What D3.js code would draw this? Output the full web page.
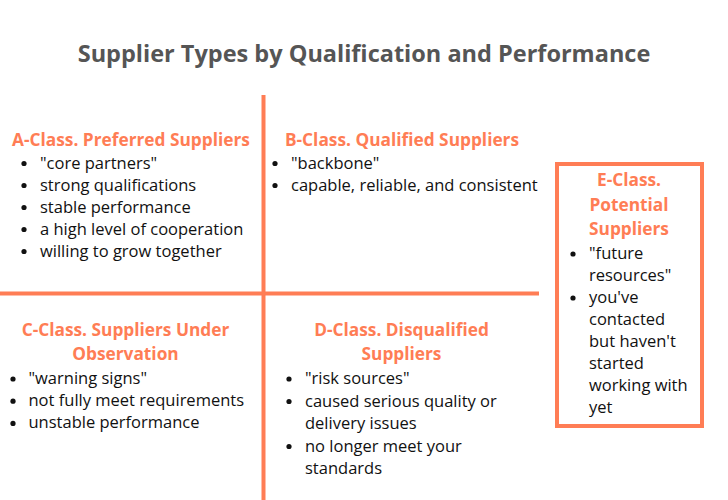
<!DOCTYPE html>
<html>
<head>
<meta charset="utf-8">
<script src="https://cdn.jsdelivr.net/npm/d3@7"></script>
<style>
  body { margin: 0; background: #fff; }
  svg { display: block; }
</style>
</head>
<body>
<svg width="728" height="500"></svg>
<script>
const title = "Supplier Types by Qualification and Performance";

// quadrant order: A (top left), B (top right), C (bottom left), D (bottom right), E (side box)
const classIds = ["A", "B", "C", "D", "E"];

const headers = [
    ["A-Class. Preferred Suppliers"],
    ["B-Class. Qualified Suppliers"],
    ["C-Class. Suppliers Under", "Observation"],
    ["D-Class. Disqualified", "Suppliers"],
    ["E-Class.", "Potential", "Suppliers"]
];

// each bullet is a list of its wrapped lines
const bullets = [
    [["\"core partners\""], ["strong qualifications"], ["stable performance"], ["a high level of cooperation"], ["willing to grow together"]],
    [["\"backbone\""], ["capable, reliable, and consistent"]],
    [["\"warning signs\""], ["not fully meet requirements"], ["unstable performance"]],
    [["\"risk sources\""], ["caused serious quality or", "delivery issues"], ["no longer meet your", "standards"]],
    [["\"future", "resources\""], ["you've", "contacted", "but haven't", "started", "working with", "yet"]]
];

const width = 728, height = 500;
const accent = "#ff7d55";
const font = "'Open Sans', sans-serif";

const svg = d3.select("svg").attr("viewBox", `0 0 ${width} ${height}`);

// grid lines of the 2x2 matrix
const gx = d3.scaleLinear().domain([0, 1, 2]).range([0, 263.5, 539]);
const gy = d3.scaleLinear().domain([0, 1, 2]).range([95, 293.5, 500]);

svg.append("text")
    .attr("x", width / 2)
    .attr("y", 62)
    .attr("text-anchor", "middle")
    .style("font-family", font)
    .style("font-weight", 700)
    .style("font-size", "23.5px")
    .style("fill", "#555555")
    .text(title);

svg.append("line")
    .attr("x1", gx(1)).attr("x2", gx(1))
    .attr("y1", gy(0)).attr("y2", gy(2))
    .attr("stroke", accent).attr("stroke-width", 4);

svg.append("line")
    .attr("x1", gx(0)).attr("x2", gx(2))
    .attr("y1", gy(1)).attr("y2", gy(1))
    .attr("stroke", accent).attr("stroke-width", 4);

// E-class box on the side
svg.append("rect")
    .attr("x", 557).attr("y", 164)
    .attr("width", 145).attr("height", 262)
    .attr("fill", "none")
    .attr("stroke", accent).attr("stroke-width", 4);

// where each block of text sits
const layout = {
    A: { cx: 131, hy: 146, hStep: 24, dotX: 24, textX: 40, by: 168.5, step: 22 },
    B: { cx: 402, hy: 146, hStep: 24, dotX: 275, textX: 291, by: 168.5, step: 22 },
    C: { cx: 125.5, hy: 335.5, hStep: 24.5, dotX: 13, textX: 28.5, by: 384, step: 22.2 },
    D: { cx: 401.5, hy: 335.5, hStep: 24.5, dotX: 289, textX: 305, by: 384, step: 22.5 },
    E: { cx: 629, hy: 186, hStep: 24.5, dotX: 573, textX: 589, by: 259, step: 22 }
};

classIds.forEach((id, i) => {
    const L = layout[id];
    const g = svg.append("g").attr("class", "block-" + id);

    g.selectAll("text.head")
        .data(headers[i])
        .enter().append("text")
        .attr("class", "head")
        .attr("x", L.cx)
        .attr("y", (d, j) => L.hy + j * L.hStep)
        .attr("text-anchor", "middle")
        .style("font-family", font)
        .style("font-weight", 700)
        .style("font-size", "17.3px")
        .style("fill", accent)
        .text(d => d);

    // flatten bullets into rows, remembering which row starts a bullet
    const rows = [];
    bullets[i].forEach(b => b.forEach((line, k) => rows.push({ line, first: k === 0 })));

    g.selectAll("circle")
        .data(rows.map((r, j) => ({ ...r, j })).filter(r => r.first))
        .enter().append("circle")
        .attr("cx", L.dotX)
        .attr("cy", d => L.by + d.j * L.step - 5)
        .attr("r", 2.6)
        .attr("fill", "#111");

    g.selectAll("text.item")
        .data(rows)
        .enter().append("text")
        .attr("class", "item")
        .attr("x", L.textX)
        .attr("y", (d, j) => L.by + j * L.step)
        .style("font-family", font)
        .style("font-size", "16.5px")
        .style("fill", "#111")
        .text(d => d.line);
});
</script>
</body>
</html>
